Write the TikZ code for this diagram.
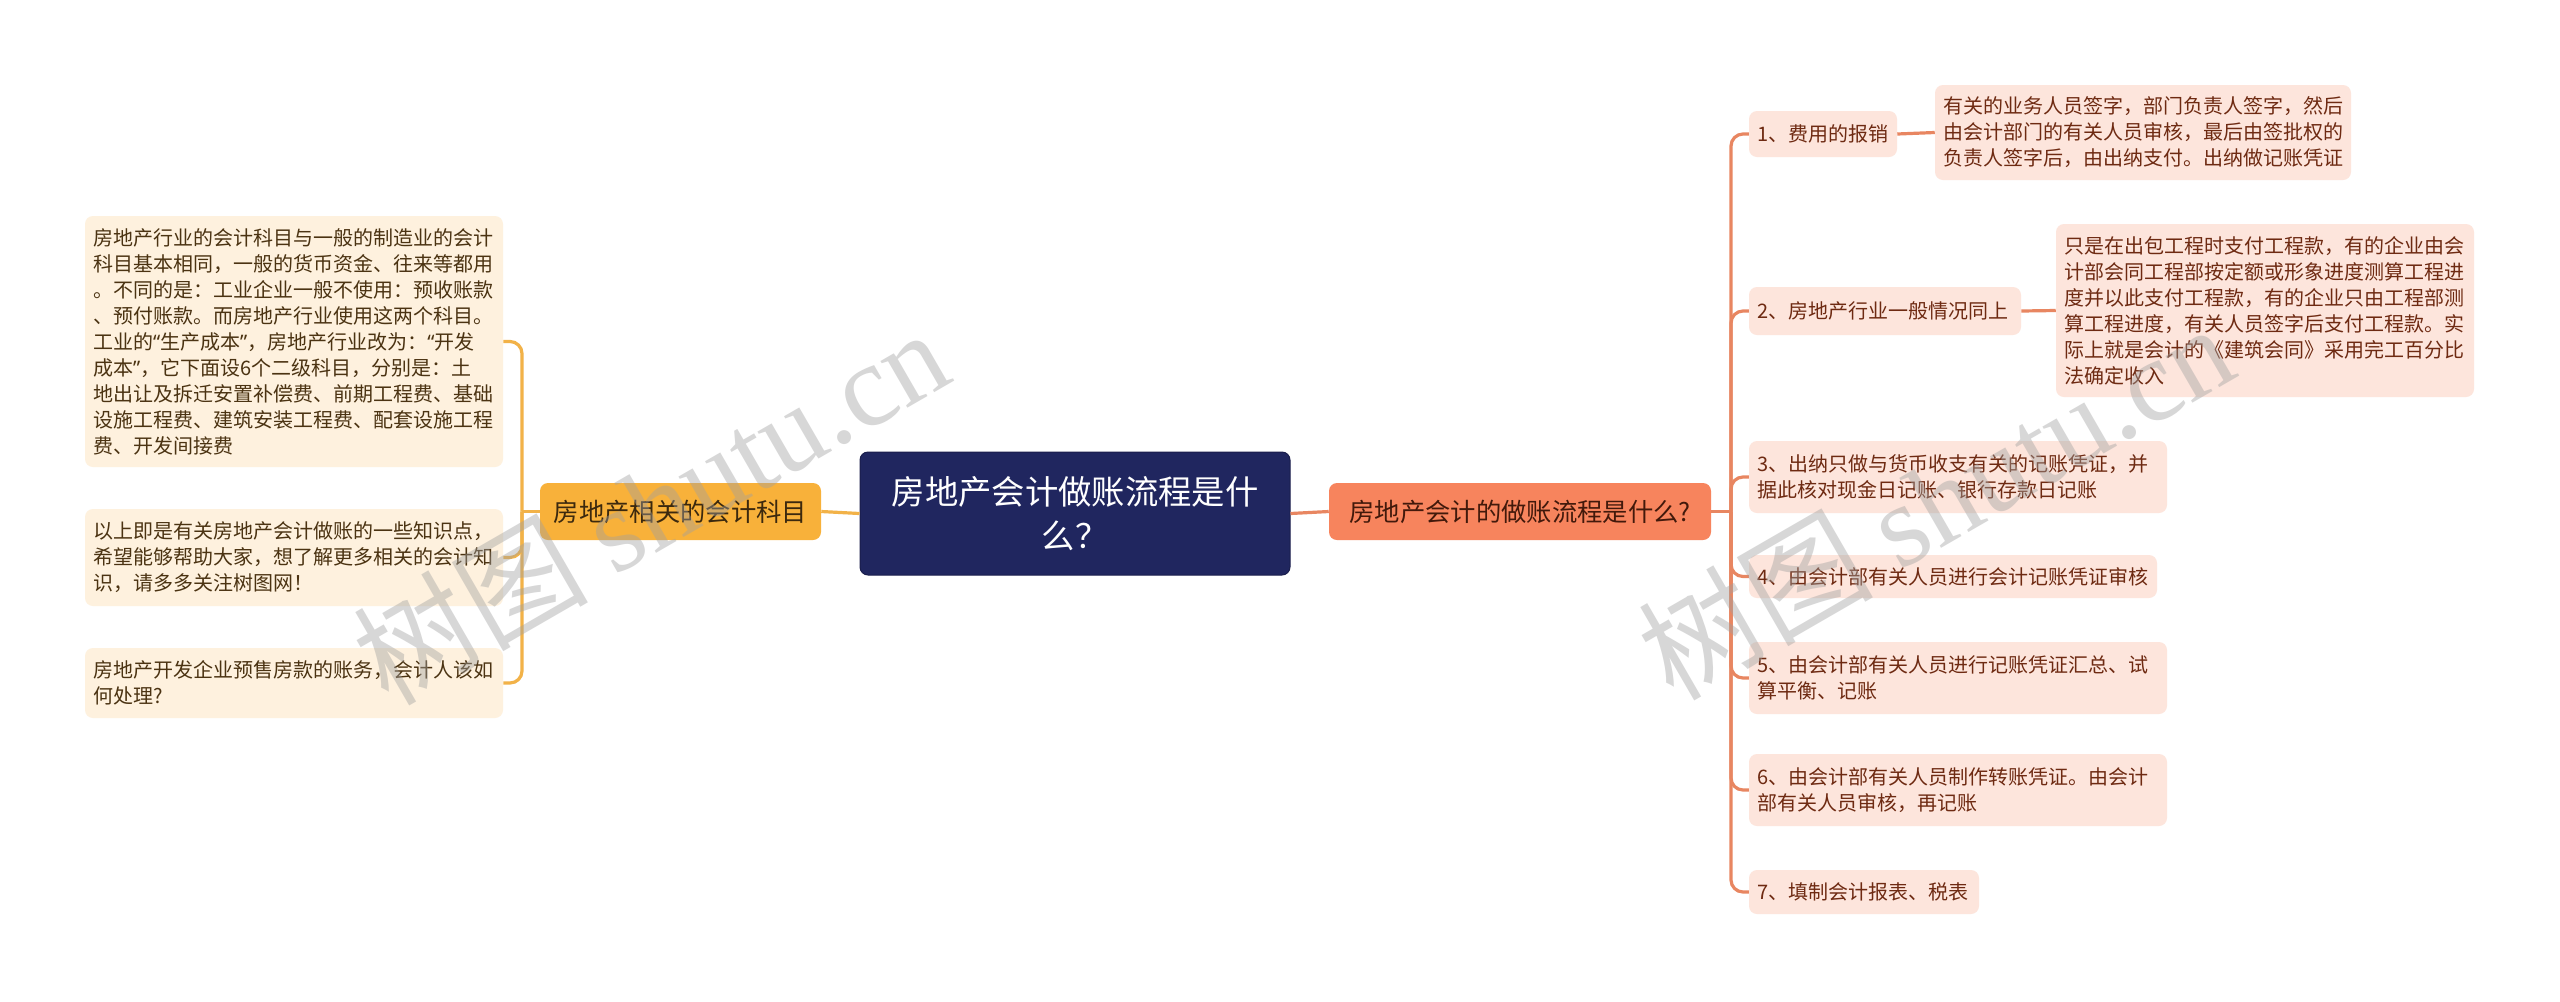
\documentclass[tikz,border=0pt]{standalone}
\usepackage{fontspec}
\setmainfont{Noto Sans CJK SC}
\newfontfamily\wmlatin{Liberation Serif}
\newfontfamily\qfont{Noto Sans}
\newcommand\myqopen{{\qfont “}}
\newcommand\myqclose{{\qfont ”}}
\definecolor{centerc}{HTML}{20265F}
\definecolor{lmainc}{HTML}{F8B13A}
\definecolor{rmainc}{HTML}{F7845D}
\definecolor{lleafc}{HTML}{FEF1DE}
\definecolor{rleafc}{HTML}{FDE5DC}
\definecolor{ltextc}{HTML}{4B3312}
\definecolor{rtextc}{HTML}{6E2A12}
\definecolor{lconc}{HTML}{F2B248}
\definecolor{rconc}{HTML}{E88661}
\definecolor{wmc}{HTML}{A0A0A0}
\begin{document}
\begin{tikzpicture}[x=0.75pt,y=-0.75pt,
  box/.style={rounded corners=6pt, inner xsep=6pt, inner ysep=0pt, align=left},
  lleaf/.style={box, fill=lleafc, text=ltextc, font=\fontsize{15pt}{19.5pt}\selectfont},
  rleaf/.style={box, fill=rleafc, text=rtextc, font=\fontsize{15pt}{19.5pt}\selectfont},
  mainbox/.style={rounded corners=6pt, inner sep=0pt, align=center, font=\fontsize{19pt}{23pt}\selectfont},
  lcon/.style={draw=lconc, line width=2.4pt},
  rcon/.style={draw=rconc, line width=2.4pt},
  wmark/.style={rotate=30, text=wmc, opacity=0.42, font=\fontsize{88pt}{88pt}\selectfont},
]
\useasboundingbox[fill=white] (0,0) rectangle (2560,1001);

% junction coordinates
\coordinate (lj) at (522,511.5);
\coordinate (rj) at (1731,511.5);

% centre and main branches
\node[rounded corners=6pt, fill=centerc, draw=centerc!80!black, line width=0.75pt, text=white,
      minimum width=322.5pt, minimum height=92.25pt, text width=300pt, inner sep=0pt, align=center,
      font=\fontsize{25pt}{33pt}\selectfont] (c) at (1075,513.5) {房地产会计做账流程是什\\么？};
\node[mainbox, fill=lmainc, text=ltextc!80!black, minimum width=210.75pt, minimum height=42.75pt] (lm) at (680.5,511.5) {房地产相关的会计科目};
\node[mainbox, fill=rmainc, text=rtextc!60!black, minimum width=286.5pt, minimum height=42.75pt] (rm) at (1520,511.5) {房地产会计的做账流程是什么?};

% left leaves
\node[lleaf, minimum width=313.5pt, minimum height=188.25pt, text width=301.5pt] (l1) at (294,341.5) {房地产行业的会计科目与一般的制造业的会计\\科目基本相同，一般的货币资金、往来等都用\\。不同的是：工业企业一般不使用：预收账款\\、预付账款。而房地产行业使用这两个科目。\\工业的\myqopen 生产成本\myqclose ，房地产行业改为：\myqopen 开发\\成本\myqclose ，它下面设6个二级科目，分别是：土\\地出让及拆迁安置补偿费、前期工程费、基础\\设施工程费、建筑安装工程费、配套设施工程\\费、开发间接费};
\node[lleaf, minimum width=313.5pt, minimum height=72.75pt, text width=301.5pt] (l2) at (294,557.5) {以上即是有关房地产会计做账的一些知识点，\\希望能够帮助大家，想了解更多相关的会计知\\识，请多多关注树图网！};
\node[lleaf, minimum width=313.5pt, minimum height=52.5pt, text width=301.5pt] (l3) at (294,683) {房地产开发企业预售房款的账务，会计人该如\\何处理?};

% right children
\node[rleaf, minimum width=111pt, minimum height=34.5pt, text width=99pt] (r1) at (1823,134) {1、费用的报销};
\node[rleaf, minimum width=312pt, minimum height=71.25pt, text width=300pt] (r1a) at (2143,132.5) {有关的业务人员签字，部门负责人签字，然后\\由会计部门的有关人员审核，最后由签批权的\\负责人签字后，由出纳支付。出纳做记账凭证};
\node[rleaf, minimum width=204pt, minimum height=36pt, text width=192pt] (r2) at (1885,311) {2、房地产行业一般情况同上};
\node[rleaf, minimum width=313.5pt, minimum height=129.75pt, text width=301.5pt] (r2a) at (2265,310.5) {只是在出包工程时支付工程款，有的企业由会\\计部会同工程部按定额或形象进度测算工程进\\度并以此支付工程款，有的企业只由工程部测\\算工程进度，有关人员签字后支付工程款。实\\际上就是会计的《建筑会同》采用完工百分比\\法确定收入};
\node[rleaf, minimum width=313.5pt, minimum height=54pt, text width=301.5pt] (r3) at (1958,477) {3、出纳只做与货币收支有关的记账凭证，并\\据此核对现金日记账、银行存款日记账};
\node[rleaf, minimum width=306pt, minimum height=32.25pt, text width=294pt] (r4) at (1953,576.5) {4、由会计部有关人员进行会计记账凭证审核};
\node[rleaf, minimum width=313.5pt, minimum height=54pt, text width=301.5pt] (r5) at (1958,678) {5、由会计部有关人员进行记账凭证汇总、试\\算平衡、记账};
\node[rleaf, minimum width=313.5pt, minimum height=54pt, text width=301.5pt] (r6) at (1958,790) {6、由会计部有关人员制作转账凭证。由会计\\部有关人员审核，再记账};
\node[rleaf, minimum width=172.5pt, minimum height=33pt, text width=160.5pt] (r7) at (1864,892) {7、填制会计报表、税表};

% connectors: centre to main
\draw[lcon] (lm.east) -- (c.west);
\draw[rcon] (c.east) -- (rm.west);

% left tree
\draw[lcon] (lm.west) -- (lj);
\foreach \n in {l1,l2,l3}
  \draw[lcon, rounded corners=9pt] (lj) -- (lj |- \n.east) -- (\n.east);

% right tree
\draw[rcon] (rm.east) -- (rj);
\foreach \n in {r1,r2,r3,r4,r5,r6,r7}
  \draw[rcon, rounded corners=9pt] (rj) -- (rj |- \n.west) -- (\n.west);
\draw[rcon] (r1.east) -- (r1a.west);
\draw[rcon] (r2.east) -- (r2a.west);

% watermarks
\node[wmark] (wm1) at (650,505) {树图 {\wmlatin shutu.cn}};
\node[wmark] (wm2) at (1935,500) {树图 {\wmlatin shutu.cn}};
\end{tikzpicture}
\end{document}
